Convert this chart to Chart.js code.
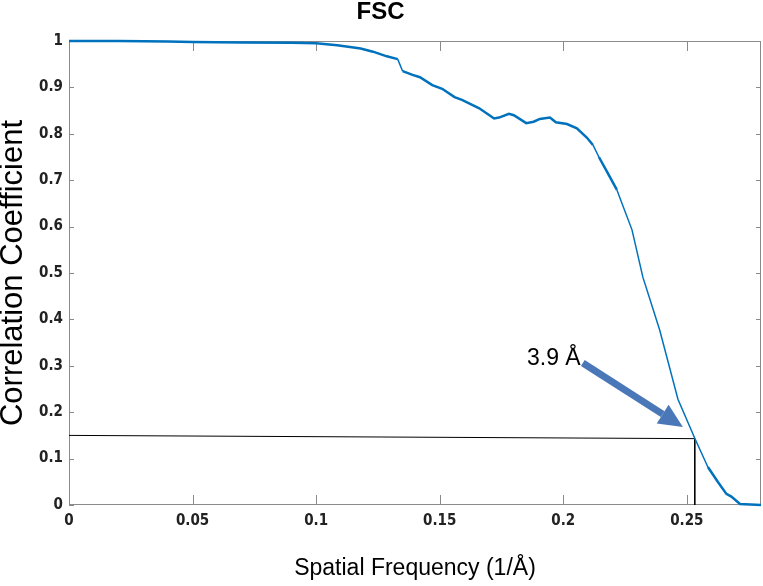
<!DOCTYPE html>
<html>
<head>
<meta charset="utf-8">
<script src="https://cdn.jsdelivr.net/npm/chart.js@4.4.1/dist/chart.umd.min.js"></script>
<style>
  html, body { margin: 0; padding: 0; background: #fff; }
</style>
</head>
<body>
<canvas id="fscChart" width="763" height="586"></canvas>
<script>
// FSC curve
const freq = [0, 0.02, 0.04, 0.05, 0.07, 0.09, 0.1, 0.1085, 0.1137, 0.118, 0.123, 0.1286, 0.133,
  0.135, 0.139, 0.142, 0.147, 0.151, 0.156, 0.159, 0.166, 0.172, 0.174, 0.178, 0.18, 0.185, 0.188,
  0.1905, 0.1946, 0.197, 0.2015, 0.2055, 0.2095, 0.212, 0.2144, 0.2175, 0.2217, 0.2278, 0.2322,
  0.239, 0.2464, 0.2532, 0.2585, 0.2625, 0.266, 0.268, 0.2715, 0.28];
const fsc = [1.0, 1.0, 0.999, 0.998, 0.997, 0.996, 0.995, 0.991, 0.987, 0.984, 0.977, 0.967, 0.961,
  0.935, 0.927, 0.922, 0.905, 0.897, 0.879, 0.873, 0.855, 0.833, 0.835, 0.843, 0.84, 0.823, 0.826,
  0.832, 0.835, 0.825, 0.821, 0.812, 0.792, 0.776, 0.75, 0.72, 0.679, 0.593, 0.491,
  0.377, 0.228, 0.144, 0.082, 0.05, 0.024, 0.018, 0.002, 0.0];

// cutoff guide line (horizontal then down to the axis)
const cutFreq = [0, 0.2532, 0.2532];
const cutFsc = [0.15, 0.143, 0];

// arrow (tail -> tip) and its label
const arrowFreq = [0.2079, 0.2484];
const arrowFsc = [0.306, 0.168];
const labelText = '3.9 Å';
const labelFreq = 0.1853;
const labelFsc = 0.302;

const xTicks = [0, 0.05, 0.1, 0.15, 0.2, 0.25];
const yTicks = [0, 0.1, 0.2, 0.3, 0.4, 0.5, 0.6, 0.7, 0.8, 0.9, 1];

const tickFont = { family: "'Liberation Sans Narrow', 'DejaVu Sans Condensed', sans-serif", size: 15, weight: 'bold' };
const textFont = "'Liberation Sans', Arial, sans-serif";

// box round the plot with inward ticks on all four sides
const frameTicks = {
  id: 'frameTicks',
  beforeDatasetsDraw(chart) {
    const { ctx, chartArea: a, scales: { x, y } } = chart;
    ctx.save();
    ctx.strokeStyle = '#8a8a8a';
    ctx.lineWidth = 1;
    ctx.strokeRect(a.left + 0.5, a.top + 0.5, a.right - a.left - 1, a.bottom - a.top - 1);
    ctx.beginPath();
    x.ticks.forEach(t => {
      const px = Math.round(x.getPixelForValue(t.value)) + 0.5;
      ctx.moveTo(px, a.bottom); ctx.lineTo(px, a.bottom - 10);
      ctx.moveTo(px, a.top); ctx.lineTo(px, a.top + 10);
    });
    y.ticks.forEach(t => {
      const py = Math.round(y.getPixelForValue(t.value)) + 0.5;
      ctx.moveTo(a.left, py); ctx.lineTo(a.left + 5, py);
      ctx.moveTo(a.right, py); ctx.lineTo(a.right - 5, py);
    });
    ctx.stroke();
    ctx.restore();
  }
};

// resolution arrow + label
const arrowNote = {
  id: 'arrowNote',
  afterDatasetsDraw(chart) {
    const { ctx, scales: { x, y } } = chart;
    const x0 = x.getPixelForValue(arrowFreq[0]), y0 = y.getPixelForValue(arrowFsc[0]);
    const x1 = x.getPixelForValue(arrowFreq[1]), y1 = y.getPixelForValue(arrowFsc[1]);
    const ang = Math.atan2(y1 - y0, x1 - x0);
    const headLen = 24, headHalf = 11;
    const bx = x1 - headLen * Math.cos(ang), by = y1 - headLen * Math.sin(ang);
    ctx.save();
    ctx.strokeStyle = '#4a77b8';
    ctx.fillStyle = '#4a77b8';
    ctx.lineWidth = 7;
    ctx.beginPath();
    ctx.moveTo(x0, y0);
    ctx.lineTo(bx, by);
    ctx.stroke();
    ctx.beginPath();
    ctx.moveTo(x1, y1);
    ctx.lineTo(bx + headHalf * Math.sin(ang), by - headHalf * Math.cos(ang));
    ctx.lineTo(bx - headHalf * Math.sin(ang), by + headHalf * Math.cos(ang));
    ctx.closePath();
    ctx.fill();

    ctx.fillStyle = '#000';
    ctx.font = '23px ' + textFont;
    ctx.textAlign = 'left';
    ctx.textBaseline = 'alphabetic';
    ctx.fillText(labelText, x.getPixelForValue(labelFreq), y.getPixelForValue(labelFsc));
    ctx.restore();
  }
};

const ctx = document.getElementById('fscChart').getContext('2d');
new Chart(ctx, {
  type: 'line',
  data: {
    datasets: [
      {
        data: freq.map((f, i) => ({ x: f, y: fsc[i] })),
        borderColor: '#0072bd',
        borderWidth: 2.5,
        pointRadius: 0,
        tension: 0,
        clip: 4,
        segment: {
          // steep part of the curve is drawn thinner in the original
          borderWidth: c => Math.abs(c.p1.y - c.p0.y) > 2 * Math.abs(c.p1.x - c.p0.x) ? 1.5 : 2.5
        }
      },
      {
        data: cutFreq.map((f, i) => ({ x: f, y: cutFsc[i] })),
        borderColor: '#000',
        borderWidth: 1,
        pointRadius: 0,
        tension: 0
      }
    ]
  },
  options: {
    responsive: false,
    animation: false,
    devicePixelRatio: 1,
    layout: { padding: { left: 0, right: 2, top: 0, bottom: 0 } },
    plugins: {
      legend: { display: false },
      tooltip: { enabled: false },
      title: {
        display: true,
        text: 'FSC',
        color: '#000',
        font: { family: textFont, size: 24, weight: 'bold', lineHeight: 1 },
        padding: { top: 0, bottom: 17 }
      }
    },
    scales: {
      x: {
        type: 'linear',
        min: 0,
        max: 0.28,
        afterBuildTicks: s => { s.ticks = xTicks.map(v => ({ value: v })); },
        afterFit: s => { s.height = 81; },
        grid: { display: false, drawTicks: false },
        border: { display: false },
        ticks: { color: '#222', font: tickFont, padding: 7, maxRotation: 0, callback: v => String(v) },
        title: {
          display: true,
          text: 'Spatial Frequency (1/Å)',
          color: '#000',
          font: { family: textFont, size: 23, lineHeight: 1.2 },
          padding: { top: 0, bottom: 4 }
        }
      },
      y: {
        type: 'linear',
        min: 0,
        max: 1,
        afterBuildTicks: s => { s.ticks = yTicks.map(v => ({ value: v })); },
        afterFit: s => { s.width = 69; },
        grid: { display: false, drawTicks: false },
        border: { display: false },
        ticks: { color: '#222', font: tickFont, padding: 6, callback: v => String(v) },
        title: {
          display: true,
          text: 'Correlation Coefficient',
          color: '#000',
          font: { family: textFont, size: 31, lineHeight: 1 },
          padding: { top: -2, bottom: 0 }
        }
      }
    }
  },
  plugins: [frameTicks, arrowNote]
});
</script>
</body>
</html>
